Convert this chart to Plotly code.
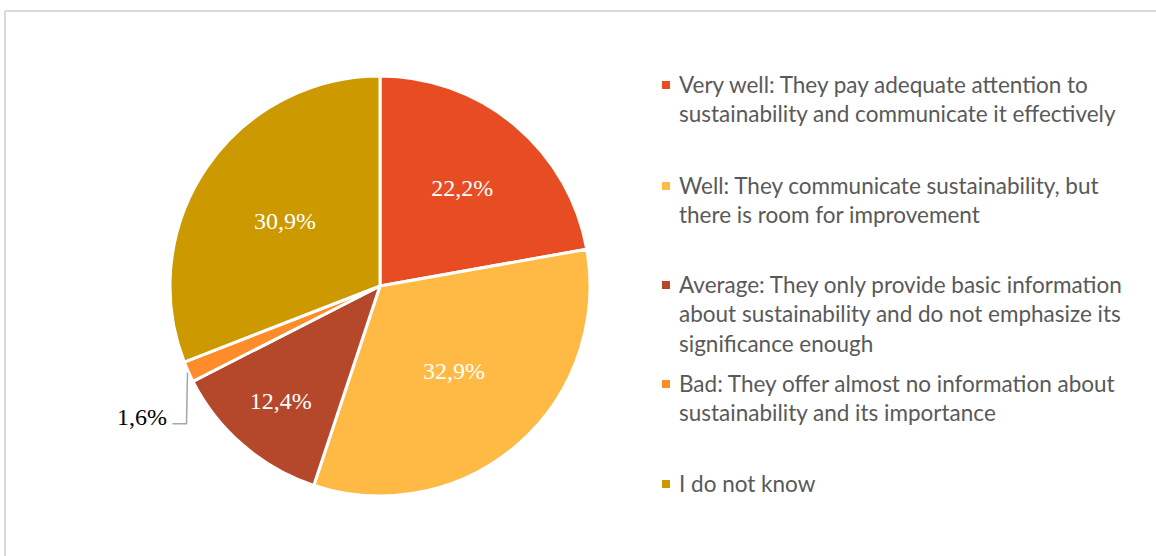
import math
import plotly.graph_objects as go

# Survey answers and their shares (%)
categories = [
    "Very well: They pay adequate attention to<br>sustainability and communicate it effectively",
    "Well: They communicate sustainability, but<br>there is room for improvement",
    "Average: They only provide basic information<br>about sustainability and do not emphasize its<br>significance enough",
    "Bad: They offer almost no information about<br>sustainability and its importance",
    "I do not know",
]
shares = [22.2, 32.9, 12.4, 1.6, 30.9]
colors = ["#E84C22", "#FFBA45", "#B5482A", "#FF8C2A", "#CC9900"]

W, H = 1156, 556
# pie geometry in pixels
cx, cy, R = 380, 286, 210


def px(x):
    return x / W


def py(y):
    return 1 - y / H


labels_txt = [f"{v:.1f}".replace(".", ",") + "%" for v in shares]
inside_txt = [t if v >= 5 else "" for t, v in zip(labels_txt, shares)]

fig = go.Figure(
    go.Pie(
        labels=[c.split(":")[0] for c in categories],
        values=shares,
        sort=False,
        direction="clockwise",
        rotation=0,
        text=inside_txt,
        textinfo="text",
        textposition="inside",
        insidetextorientation="horizontal",
        insidetextfont=dict(family="Liberation Serif", size=24, color="white"),
        marker=dict(colors=colors, line=dict(color="white", width=3)),
        domain=dict(x=[px(cx - R), px(cx + R)], y=[py(cy + R), py(cy - R)]),
        showlegend=False,
        hoverinfo="label+percent",
    )
)

shapes = []
annotations = []

# outer frame (top and left edges visible)
shapes.append(dict(type="line", xref="paper", yref="paper",
                   x0=px(5), x1=1.01, y0=py(11), y1=py(11),
                   line=dict(color="#D9D9D9", width=2)))
shapes.append(dict(type="line", xref="paper", yref="paper",
                   x0=px(5), x1=px(5), y0=py(11), y1=-0.01,
                   line=dict(color="#D9D9D9", width=2)))

# leader line for the small slices, starting just outside their rim midpoint
total = sum(shares)
cum = 0
for v, t in zip(shares, labels_txt):
    mid = (cum + v / 2) / total * 2 * math.pi
    cum += v
    if v >= 5:
        continue
    ax = cx + (R + 2) * math.sin(mid)
    ay = cy - (R + 2) * math.cos(mid)
    ey = ay + 51
    ex = ax - 14
    shapes.append(dict(type="path", xref="paper", yref="paper",
                       path=f"M {px(ax + 1)},{py(ay)} L {px(ax)},{py(ey)} L {px(ex)},{py(ey)}",
                       line=dict(color="#A6A6A6", width=1.5)))
    annotations.append(dict(x=px(ex - 4), y=py(ey - 7), xref="paper", yref="paper",
                            text=t, showarrow=False, xanchor="right", yanchor="middle",
                            font=dict(family="Liberation Serif", size=24, color="#000000")))

# legend drawn as markers and wrapped text
leg_x = 662
leg_tops = [85, 186, 285, 384, 484]
for name, col, y in zip(categories, colors, leg_tops):
    shapes.append(dict(type="rect", xref="paper", yref="paper",
                       x0=px(leg_x), x1=px(leg_x + 8), y0=py(y + 4), y1=py(y - 4),
                       fillcolor=col, line=dict(width=0)))
    annotations.append(dict(x=px(leg_x + 15), y=py(y - 16), xref="paper", yref="paper",
                            text=name, showarrow=False, xanchor="left", yanchor="top",
                            align="left",
                            font=dict(family="Lato", size=22.5, color="#595959")))

fig.update_layout(
    width=W, height=H,
    margin=dict(l=0, r=0, t=0, b=0),
    paper_bgcolor="white",
    plot_bgcolor="white",
    shapes=shapes,
    annotations=annotations,
)

fig.write_html("out.html")
